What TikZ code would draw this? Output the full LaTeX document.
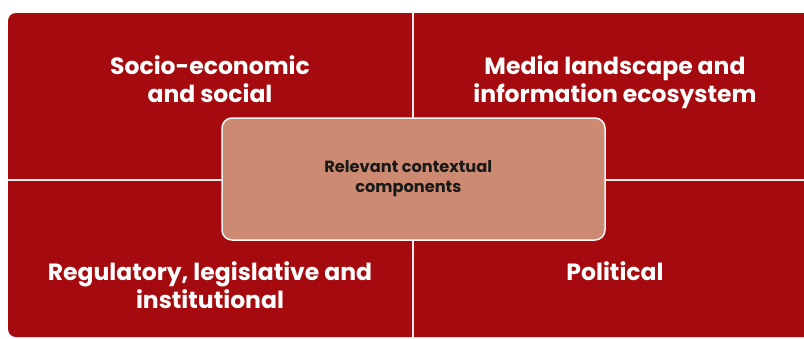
\documentclass[tikz,border=0pt]{standalone}
\usepackage{fontspec}
\setmainfont{Poppins}
\definecolor{quadred}{HTML}{A50B0E}
\definecolor{centertan}{HTML}{CB8A71}
\begin{document}
\begin{tikzpicture}[x=1pt,y=-1pt,
  quadlabel/.style={text=white, font=\fontsize{23.5}{28}\selectfont\bfseries, align=center, inner sep=0pt},
  centerbox/.style={fill=centertan, draw=white!92!centertan, line width=1.5pt, rounded corners=10pt,
    minimum width=383pt, minimum height=122pt, inner sep=0pt},
  centerlabel/.style={font=\fontsize{16.2}{20}\selectfont\bfseries, text=black!90, align=center, inner sep=0pt},
  divider/.style={draw=white!92!quadred, line width=1.6pt}]
\useasboundingbox (0,0) rectangle (804,338);
\clip (0,0) rectangle (804,338);
\fill[white] (0,0) rectangle (804,338);
\fill[quadred, rounded corners=8pt] (8,13) rectangle (830,337);
\coordinate (vtop) at (413,13);
\coordinate (vbot) at (413,338);
\coordinate (hleft) at (8,180);
\coordinate (hright) at (804,180);
\draw[divider] (vtop) -- (vbot);
\draw[divider] (hleft) -- (hright);
\node[quadlabel] (socio) at (210,82.4) {\strut Socio-economic\\\strut and social};
\node[quadlabel] (media) at (615,82.4) {\strut Media landscape and\\\strut information ecosystem};
\node[quadlabel] (reg) at (210,288.4) {\strut Regulatory, legislative and\\\strut institutional};
\node[quadlabel] (pol) at (615,274.4) {\strut Political};
\node[centerbox] (center) at (413.5,179) {};
\node[centerlabel] (centertext) at (408.3,178.7) {\strut Relevant contextual\\\strut components};
\end{tikzpicture}
\end{document}
